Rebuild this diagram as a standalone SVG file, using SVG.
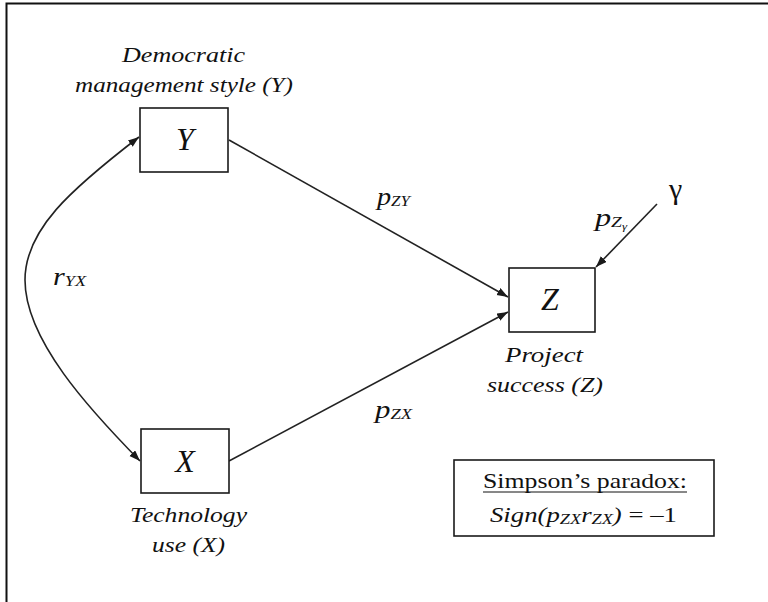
<svg xmlns="http://www.w3.org/2000/svg" width="768" height="602" viewBox="0 0 768 602">
  <defs>
    <marker id="arrow" markerUnits="userSpaceOnUse" markerWidth="12" markerHeight="9" refX="11" refY="4" orient="auto-start-reverse">
      <path d="M0,0 L11,4 L0,8 z" fill="#1a1a1a"/>
    </marker>
    <style>
      .frame { fill: none; stroke: #111; stroke-width: 2; }
      .box { fill: #fff; stroke: #1a1a1a; stroke-width: 1.6; }
      .edge { fill: none; stroke: #222; stroke-width: 1.6; marker-end: url(#arrow); }
      .lbl { font-family: "Liberation Serif", "Times New Roman", serif; font-style: italic; font-size: 22px; fill: #111; }
      .big { font-family: "Liberation Serif", "Times New Roman", serif; font-style: italic; font-size: 32px; fill: #111; text-anchor: middle; }
      .sym { font-family: "Liberation Serif", "Times New Roman", serif; font-size: 22px; fill: #111; }
      .coef { font-size: 25px; }
      .sub { font-size: 15px; }
      .up { font-style: normal; }
    </style>
  </defs>

  <rect width="768" height="602" fill="#fff"/>
  <!-- page frame: top and left rules only -->
  <path class="frame" d="M6.5,602 V3.5 H768"/>

  <!-- connectors -->
  <g id="connectors">
    <path class="edge" d="M229,140 L508,297"/>
    <path class="edge" d="M229,461 L508,312"/>
    <path class="edge" d="M657,204 L596,267"/>
    <path class="edge" style="marker-start: url(#arrow);" d="M139,137 C70,190 25,230 25,280 C25,340 90,410 140,461"/>
  </g>

  <!-- node Y -->
  <g id="node-Y">
    <rect class="box" x="140" y="108" width="88" height="64"/>
    <text class="big" x="185" y="150">Y</text>
    <text class="lbl" x="122" y="62" textLength="123" lengthAdjust="spacingAndGlyphs">Democratic</text>
    <text class="lbl" x="75" y="92" textLength="218" lengthAdjust="spacingAndGlyphs">management style (Y)</text>
  </g>

  <!-- node X -->
  <g id="node-X">
    <rect class="box" x="141" y="429" width="88" height="64"/>
    <text class="big" x="185" y="472">X</text>
    <text class="lbl" x="130" y="522" textLength="117" lengthAdjust="spacingAndGlyphs">Technology</text>
    <text class="lbl" x="152" y="552" textLength="73" lengthAdjust="spacingAndGlyphs">use (X)</text>
  </g>

  <!-- node Z -->
  <g id="node-Z">
    <rect class="box" x="509" y="268" width="86" height="64"/>
    <text class="big" x="550" y="310">Z</text>
    <text class="lbl" x="505" y="362" textLength="78" lengthAdjust="spacingAndGlyphs">Project</text>
    <text class="lbl" x="487" y="392" textLength="116" lengthAdjust="spacingAndGlyphs">success (Z)</text>
  </g>

  <!-- disturbance term -->
  <g id="node-gamma">
    <text class="sym" x="669" y="199" style="font-size:30px">γ</text>
  </g>

  <!-- path coefficient labels -->
  <g id="labels">
    <text class="lbl coef" x="377" y="205" textLength="33" lengthAdjust="spacingAndGlyphs">p<tspan class="sub" dy="1">ZY</tspan></text>
    <text class="lbl coef" x="375" y="418" textLength="37" lengthAdjust="spacingAndGlyphs">p<tspan class="sub" dy="1">ZX</tspan></text>
    <text class="lbl coef" x="595" y="226" textLength="32" lengthAdjust="spacingAndGlyphs">p<tspan class="sub" dy="1">Z</tspan><tspan style="font-size:10px" dy="3">γ</tspan></text>
    <text class="lbl coef" x="53" y="285" textLength="33" lengthAdjust="spacingAndGlyphs">r<tspan class="sub" dy="1">YX</tspan></text>
  </g>

  <!-- note box -->
  <g id="note">
    <rect class="box" x="454" y="460" width="260" height="76"/>
    <text class="sym" x="483" y="488" textLength="204" lengthAdjust="spacingAndGlyphs">Simpson’s paradox:</text>
    <line x1="483" y1="492" x2="687" y2="492" stroke="#111" stroke-width="1"/>
    <text class="lbl" x="490" y="522" textLength="187" lengthAdjust="spacingAndGlyphs">Sign(p<tspan class="sub" dy="2">ZX</tspan><tspan dy="-2">r</tspan><tspan class="sub" dy="2">ZX</tspan><tspan dy="-2">)</tspan><tspan class="up"> = –1</tspan></text>
  </g>
</svg>
